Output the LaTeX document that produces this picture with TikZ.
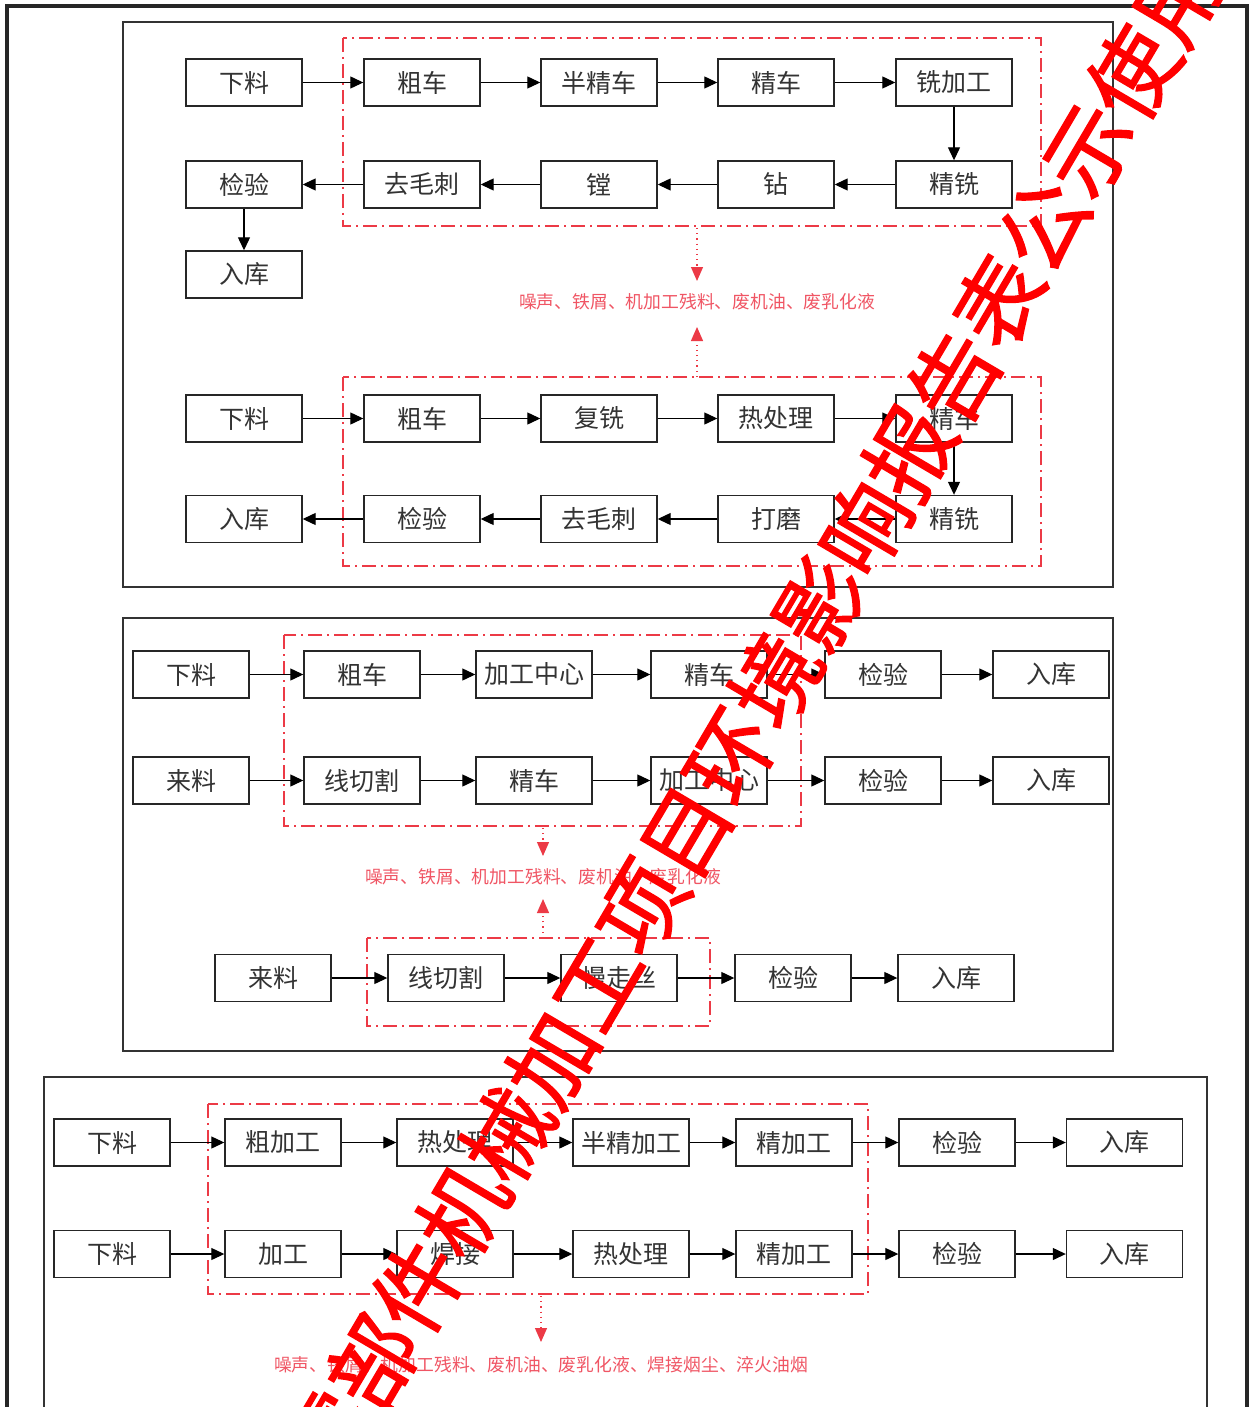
\documentclass[tikz,border=0pt]{standalone}
\usepackage{fontspec}
\newfontfamily\cjk{Noto Sans CJK SC}
\newfontfamily\cjkwm[FakeBold=1.5]{Noto Sans CJK SC}
\usetikzlibrary{arrows.meta}
\definecolor{dd}{RGB}{236,58,70}
\definecolor{lbl}{RGB}{240,85,100}
\definecolor{wm}{RGB}{255,0,0}
\tikzset{
  box/.style={draw=black!85, line width=0.7pt, fill=white, minimum width=58pt, minimum height=23.5pt, inner sep=0pt, font=\cjk\fontsize{12.5}{14}\selectfont, text=black!80},
  arr/.style={draw=black, line width=0.6pt, -{Triangle[length=6.5pt,width=6pt]}},
  panel/.style={draw=black!80, line width=0.8pt},
  ddrect/.style={draw=dd, line width=0.8pt, dash pattern=on 7pt off 2.5pt on 1pt off 2.5pt},
  redarr/.style={draw=dd, line width=0.6pt, dotted, -{Triangle[length=7pt,width=6pt]}, color=dd},
  lab/.style={font=\cjk\fontsize{8.9}{10}\selectfont, text=lbl, inner sep=0pt}
}
\begin{document}
\begin{tikzpicture}[x=0.5pt,y=-0.5pt]
\useasboundingbox (0,0) rectangle (1250,1407);
\clip (0,0) rectangle (1250,1407);
\fill[white] (0,0) rectangle (1250,1407);
% outer frame
\draw[black!85, line width=2pt] (7,6) rectangle (1247,1440);
% ===== Panel 1 =====
\draw[panel] (123,22) rectangle (1113,587);
\draw[ddrect] (343,38) rectangle (1041,226);
\draw[ddrect] (343,377) rectangle (1041,566);
\node[box] (a1) at (244,82.5) {下料};
\node[box] (a2) at (422,82.5) {粗车};
\node[box] (a3) at (599,82.5) {半精车};
\node[box] (a4) at (776,82.5) {精车};
\node[box] (a5) at (954,82.5) {铣加工};
\node[box] (b1) at (244,184.5) {检验};
\node[box] (b2) at (422,184.5) {去毛刺};
\node[box] (b3) at (599,184.5) {镗};
\node[box] (b4) at (776,184.5) {钻};
\node[box] (b5) at (954,184.5) {精铣};
\node[box] (c1) at (244,274.5) {入库};
\draw[arr] (a1) -- (a2);
\draw[arr] (a2) -- (a3);
\draw[arr] (a3) -- (a4);
\draw[arr] (a4) -- (a5);
\draw[arr] (a5) -- (b5);
\draw[arr] (b5) -- (b4);
\draw[arr] (b4) -- (b3);
\draw[arr] (b3) -- (b2);
\draw[arr] (b2) -- (b1);
\draw[arr] (b1) -- (c1);
\node[lab] (l1) at (697,302) {噪声、铁屑、机加工残料、废机油、废乳化液};
\coordinate (s1) at (697,228);
\coordinate (t1) at (697,281);
\coordinate (s2) at (697,377);
\coordinate (t2) at (697,327);
\draw[redarr] (s1) -- (t1);
\draw[redarr] (s2) -- (t2);
\node[box] (d1) at (244,418.5) {下料};
\node[box] (d2) at (422,418.5) {粗车};
\node[box] (d3) at (599,418.5) {复铣};
\node[box] (d4) at (776,418.5) {热处理};
\node[box] (d5) at (954,418.5) {精车};
\node[box] (e1) at (244,519) {入库};
\node[box] (e2) at (422,519) {检验};
\node[box] (e3) at (599,519) {去毛刺};
\node[box] (e4) at (776,519) {打磨};
\node[box] (e5) at (954,519) {精铣};
\draw[arr] (d1) -- (d2);
\draw[arr] (d2) -- (d3);
\draw[arr] (d3) -- (d4);
\draw[arr] (d4) -- (d5);
\draw[arr] (d5) -- (e5);
\draw[arr] (e5) -- (e4);
\draw[arr] (e4) -- (e3);
\draw[arr] (e3) -- (e2);
\draw[arr] (e2) -- (e1);
% ===== Panel 2 =====
\draw[panel] (123,618) rectangle (1113,1051);
\draw[ddrect] (284,635) rectangle (801,826);
\node[box] (f1) at (191,674.5) {下料};
\node[box] (f2) at (362,674.5) {粗车};
\node[box] (f3) at (534,674.5) {加工中心};
\node[box] (f4) at (709,674.5) {精车};
\node[box] (f5) at (883,674.5) {检验};
\node[box] (f6) at (1051,674.5) {入库};
\node[box] (g1) at (191,780.5) {来料};
\node[box] (g2) at (362,780.5) {线切割};
\node[box] (g3) at (534,780.5) {精车};
\node[box] (g4) at (709,780.5) {加工中心};
\node[box] (g5) at (883,780.5) {检验};
\node[box] (g6) at (1051,780.5) {入库};
\draw[arr] (f1) -- (f2);
\draw[arr] (f2) -- (f3);
\draw[arr] (f3) -- (f4);
\draw[arr] (f4) -- (f5);
\draw[arr] (f5) -- (f6);
\draw[arr] (g1) -- (g2);
\draw[arr] (g2) -- (g3);
\draw[arr] (g3) -- (g4);
\draw[arr] (g4) -- (g5);
\draw[arr] (g5) -- (g6);
\node[lab] (l2) at (543,877) {噪声、铁屑、机加工残料、废机油、废乳化液};
\coordinate (s3) at (543,828);
\coordinate (t3) at (543,856);
\coordinate (s4) at (543,938);
\coordinate (t4) at (543,899);
\draw[redarr] (s3) -- (t3);
\draw[redarr] (s4) -- (t4);
\draw[ddrect] (367,938) rectangle (710,1026);
\node[box] (h1) at (273,978) {来料};
\node[box] (h2) at (446,978) {线切割};
\node[box] (h3) at (619,978) {慢走丝};
\node[box] (h4) at (793,978) {检验};
\node[box] (h5) at (956,978) {入库};
\draw[arr] (h1) -- (h2);
\draw[arr] (h2) -- (h3);
\draw[arr] (h3) -- (h4);
\draw[arr] (h4) -- (h5);
% ===== Panel 3 =====
\draw[panel] (44,1077) rectangle (1207,1440);
\draw[ddrect] (208,1104) rectangle (868,1294);
\node[box] (i1) at (112,1142.5) {下料};
\node[box] (i2) at (283,1142.5) {粗加工};
\node[box] (i3) at (455,1142.5) {热处理};
\node[box] (i4) at (631,1142.5) {半精加工};
\node[box] (i5) at (794,1142.5) {精加工};
\node[box] (i6) at (957,1142.5) {检验};
\node[box] (i7) at (1124.5,1142.5) {入库};
\node[box] (j1) at (112,1254) {下料};
\node[box] (j2) at (283,1254) {加工};
\node[box] (j3) at (455,1254) {焊接};
\node[box] (j4) at (631,1254) {热处理};
\node[box] (j5) at (794,1254) {精加工};
\node[box] (j6) at (957,1254) {检验};
\node[box] (j7) at (1124.5,1254) {入库};
\draw[arr] (i1) -- (i2);
\draw[arr] (i2) -- (i3);
\draw[arr] (i3) -- (i4);
\draw[arr] (i4) -- (i5);
\draw[arr] (i5) -- (i6);
\draw[arr] (i6) -- (i7);
\draw[arr] (j1) -- (j2);
\draw[arr] (j2) -- (j3);
\draw[arr] (j3) -- (j4);
\draw[arr] (j4) -- (j5);
\draw[arr] (j5) -- (j6);
\draw[arr] (j6) -- (j7);
\node[lab] (l3) at (541,1365) {噪声、铁屑、机加工残料、废机油、废乳化液、焊接烟尘、淬火油烟};
\coordinate (s5) at (541,1296);
\coordinate (t5) at (541,1342);
\draw[redarr] (s5) -- (t5);
% ===== watermark =====
\node[rotate=59.5, text=wm, inner sep=0pt, font=\cjkwm\fontsize{44}{44}\selectfont] (wmk) at (753,718) {零部件机械加工项目环境影响报告表公示使用};
\end{tikzpicture}
\end{document}
